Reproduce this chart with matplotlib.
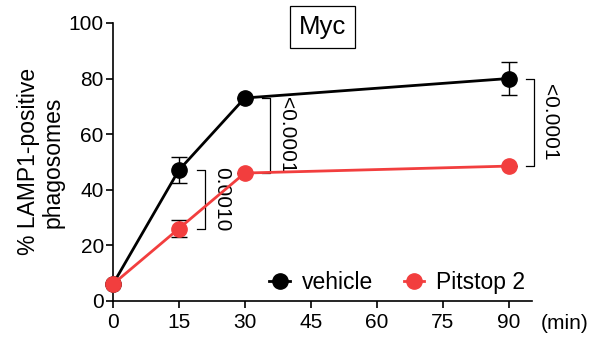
import matplotlib
matplotlib.use('Agg')
import matplotlib.pyplot as plt
from matplotlib.lines import Line2D

plt.rcParams['font.family'] = ['Liberation Sans', 'DejaVu Sans']

# 数据
time_min = [0, 15, 30, 90]
vehicle = [6, 47, 73, 80]
vehicle_err = [0, 4.7, 0, 6]
pitstop = [6, 26, 46, 48.5]
pitstop_err = [0, 3, 0, 0]
x_ticks = [0, 15, 30, 45, 60, 75, 90]
y_ticks = [0, 20, 40, 60, 80, 100]
# 显著性标注: (时间点, p值)
p_labels = [(15, '0.0010'), (30, '<0.0001'), (90, '<0.0001')]

red = '#f23e3e'

fig = plt.figure(figsize=(5.97, 3.37), dpi=100)
ax = fig.add_axes([0.189, 0.107, 0.702, 0.825])

ax.errorbar(time_min, vehicle, yerr=vehicle_err, color='black', lw=2, marker='o',
            ms=11, elinewidth=1, capsize=6, capthick=1, clip_on=False, zorder=3)
ax.errorbar(time_min, pitstop, yerr=pitstop_err, color=red, lw=2, marker='o',
            ms=11, elinewidth=1, ecolor='black', capsize=6, capthick=1,
            clip_on=False, zorder=4)

# 括号和p值
offsets = {15: 6.0, 30: 5.7, 90: 5.7}
for t, txt in p_labels:
    i = time_min.index(t)
    top, bot = vehicle[i], pitstop[i]
    xb = t + offsets[t]
    ax.plot([xb - 1.8, xb, xb, xb - 1.8], [top, top, bot, bot], color='black',
            lw=0.9, clip_on=False, zorder=2)
    ax.text(xb + 3.7, (top + bot) / 2, txt, rotation=-90, ha='center', va='center',
            fontsize=15)

ax.set_xlim(0, 95.3)
ax.set_ylim(0, 100)
ax.set_xticks(x_ticks)
ax.set_yticks(y_ticks)
ax.tick_params(labelsize=15, width=1.2, length=5)
ax.tick_params(axis='y', pad=1.5)
for s in ['top', 'right']:
    ax.spines[s].set_visible(False)
for s in ['left', 'bottom']:
    ax.spines[s].set_linewidth(1.2)

ax.set_ylabel('% LAMP1-positive\nphagosomes', fontsize=16.5, labelpad=3, linespacing=1.1)
ax.text(1.02, -0.08, '(min)', transform=ax.transAxes, fontsize=15, ha='left', va='center')

ax.text(0.501, 0.987, 'Myc', transform=ax.transAxes, fontsize=18.5, ha='center',
        va='center',
        bbox=dict(boxstyle='square,pad=0.35', fc='white', ec='black', lw=0.9))

handles = [Line2D([], [], color='black', marker='o', ms=11, lw=2),
           Line2D([], [], color=red, marker='o', ms=11, lw=2)]
ax.legend(handles, ['vehicle', 'Pitstop 2'], ncol=2, frameon=False, fontsize=16.5,
          loc='center right', bbox_to_anchor=(0.983, 0.068), handlelength=0.9,
          columnspacing=1.35, handletextpad=0.5, borderpad=0, borderaxespad=0)

plt.savefig('out.png', dpi=100)
